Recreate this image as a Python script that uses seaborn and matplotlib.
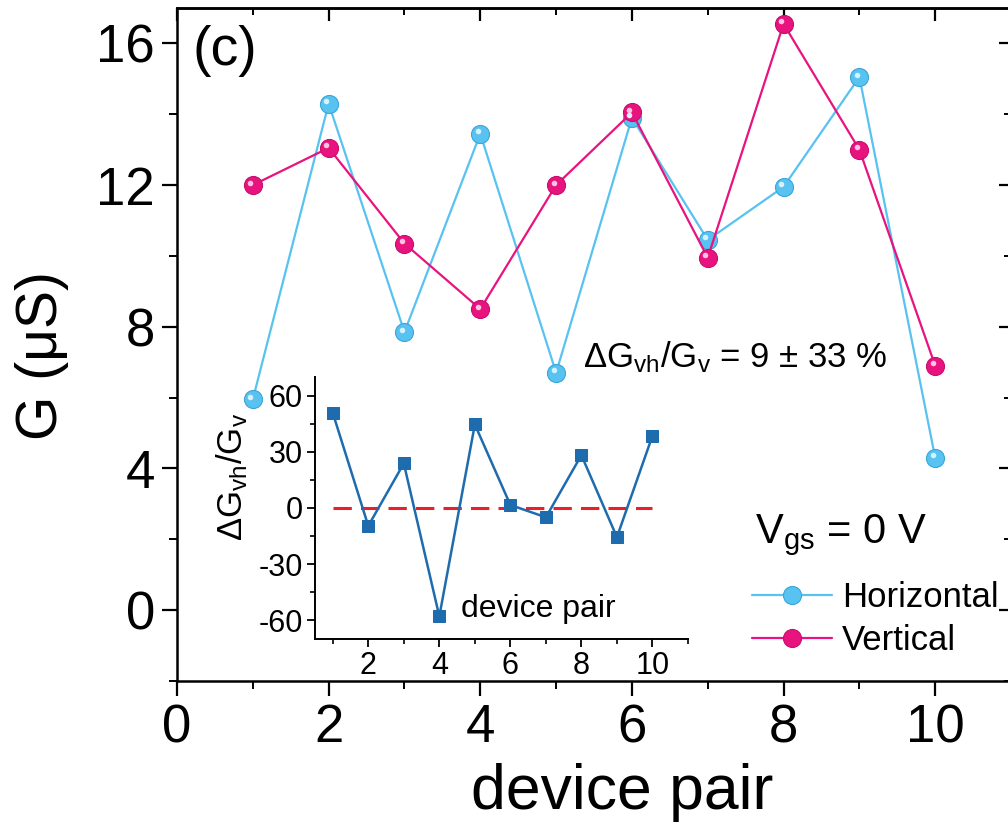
import matplotlib
matplotlib.use("Agg")
import matplotlib.pyplot as plt
import matplotlib.transforms as mtransforms
from matplotlib.lines import Line2D
from matplotlib.ticker import MultipleLocator
import pandas as pd
import seaborn as sns

# ---- data -------------------------------------------------------------
pairs = [1, 2, 3, 4, 5, 6, 7, 8, 9, 10]
g_horizontal = [5.95, 14.3, 7.85, 13.45, 6.7, 13.9, 10.45, 11.95, 15.05, 4.3]
g_vertical = [12.0, 13.05, 10.35, 8.5, 12.0, 14.05, 9.95, 16.55, 13.0, 6.9]
delta_ratio = [50.8, -9.6, 23.8, -57.9, 44.6, 1.6, -5.0, 28.2, -15.6, 38.5]

series_names = ["Horizontal", "Vertical"]
series_colors = ["#58C2F0", "#E8137E"]
edge_colors = ["#3AA6DA", "#C80F6C"]
shine_colors = ["#D6F1FF", "#FFC2E0"]
inset_color = "#1E6CAE"
zero_color = "#E8202A"

# ---- style ------------------------------------------------------------
sns.set_theme(style="ticks")
plt.rcParams["font.family"] = ["Liberation Sans", "DejaVu Sans"]
plt.rcParams["mathtext.fontset"] = "custom"
plt.rcParams["mathtext.rm"] = "Liberation Sans"
plt.rcParams["mathtext.it"] = "Liberation Sans:italic"
plt.rcParams["mathtext.default"] = "regular"
plt.rcParams["axes.unicode_minus"] = False
plt.rcParams["axes.edgecolor"] = "black"
plt.rcParams["axes.labelcolor"] = "black"
plt.rcParams["text.color"] = "black"
plt.rcParams["xtick.color"] = "black"
plt.rcParams["ytick.color"] = "black"

fig = plt.figure(figsize=(10.08, 8.4), dpi=100, facecolor="white")
ax = fig.add_axes([0.1756, 0.1893, 0.8274, 0.8012])

df = pd.DataFrame({
    "pair": pairs * 2,
    "G": g_horizontal + g_vertical,
    "orientation": [series_names[0]] * len(pairs) + [series_names[1]] * len(pairs),
})
sns.lineplot(data=df, x="pair", y="G", hue="orientation",
             palette=dict(zip(series_names, series_colors)),
             marker="o", markersize=13, linewidth=1.6, markeredgewidth=0.8,
             sort=False, legend=False, ax=ax)
for line, ec in zip(ax.lines, edge_colors):
    line.set_markeredgecolor(ec)

# small glossy highlight on each bead
shine = mtransforms.offset_copy(ax.transData, fig=fig, x=-2.5, y=2.5, units="dots")
for vals, sc in zip([g_horizontal, g_vertical], shine_colors):
    ax.plot(pairs, vals, "o", ms=4, color=sc, mew=0, transform=shine, zorder=5)

ax.set_xlim(0, 11)
ax.set_ylim(-2, 17)
ax.xaxis.set_major_locator(MultipleLocator(2))
ax.xaxis.set_minor_locator(MultipleLocator(1))
ax.yaxis.set_major_locator(MultipleLocator(4))
ax.yaxis.set_minor_locator(MultipleLocator(2))
ax.tick_params(which="major", direction="out", length=11, width=1.6,
               labelsize=38, pad=5)
ax.tick_params(which="minor", direction="out", length=6, width=1.4)
for s in ax.spines.values():
    s.set_linewidth(1.8)

# inward ticks on the top and right frame
top = ax.secondary_xaxis("top")
top.xaxis.set_major_locator(MultipleLocator(2))
top.xaxis.set_minor_locator(MultipleLocator(1))
top.tick_params(which="major", direction="in", length=9, width=1.6, labeltop=False)
top.tick_params(which="minor", direction="in", length=5, width=1.4)
right = ax.secondary_yaxis("right")
right.yaxis.set_major_locator(MultipleLocator(4))
right.yaxis.set_minor_locator(MultipleLocator(2))
right.tick_params(which="major", direction="in", length=9, width=1.6, labelright=False)
right.tick_params(which="minor", direction="in", length=5, width=1.4)
for sec in (top, right):
    for s in sec.spines.values():
        s.set_linewidth(1.8)

ax.set_xlabel("device pair", fontsize=45)
ax.xaxis.set_label_coords(0.534, -0.122)
ax.set_ylabel("G (μS)", fontsize=41)
ax.yaxis.set_label_coords(-0.13, 0.484)

ax.text(0.019, 0.975, "(c)", transform=ax.transAxes, fontsize=40,
        ha="left", va="top")
ax.text(0.487, 0.481, r"$\Delta$G$_{vh}$/G$_{v}$ = 9 ± 33 %",
        transform=ax.transAxes, fontsize=25, ha="left", va="center")

ax.text(0.693, 0.217, r"V$_{gs}$ = 0 V", transform=ax.transAxes,
        fontsize=30, ha="left", va="center")
handles = [Line2D([], [], color=c, marker="o", ms=13, mec=ec, mew=0.8, lw=1.6)
           for c, ec in zip(series_colors, edge_colors)]
leg = ax.legend(handles, series_names,
                loc="center left", bbox_to_anchor=(0.689, 0.092),
                frameon=False, fontsize=25,
                handlelength=2.3, handletextpad=0.3, labelspacing=0.3,
                borderpad=0, borderaxespad=0)

# ---- inset: relative difference per pair -----------------------------
axins = fig.add_axes([0.3125, 0.2393, 0.370, 0.312])
axins.patch.set_alpha(0)
sns.lineplot(x=pairs, y=delta_ratio, ax=axins, color=inset_color,
             marker="s", markersize=8, markeredgecolor=inset_color,
             linewidth=1.8, sort=False)
axins.hlines(0, 1, 10, colors=zero_color, linestyles=(0, (6, 3)), linewidth=2.2,
             zorder=1)
axins.set_xlim(0.5, 11)
axins.set_ylim(-70, 70)
axins.xaxis.set_major_locator(MultipleLocator(2))
axins.xaxis.set_minor_locator(MultipleLocator(1))
axins.yaxis.set_major_locator(MultipleLocator(30))
axins.yaxis.set_minor_locator(MultipleLocator(15))
axins.tick_params(which="major", direction="out", length=6, width=1.3,
                  labelsize=22, pad=3)
axins.tick_params(which="minor", direction="out", length=3.5, width=1.2)
axins.spines["top"].set_visible(False)
axins.spines["right"].set_visible(False)
for s in ("left", "bottom"):
    axins.spines[s].set_linewidth(1.4)
axins.set_ylabel(r"$\Delta$G$_{vh}$/G$_{v}$", fontsize=25)
axins.yaxis.set_label_coords(-0.175, 0.62)
axins.set_xlabel("device pair", fontsize=23)
axins.xaxis.set_label_coords(0.6, 0.17)

fig.savefig("out.png", dpi=100, facecolor="white")
